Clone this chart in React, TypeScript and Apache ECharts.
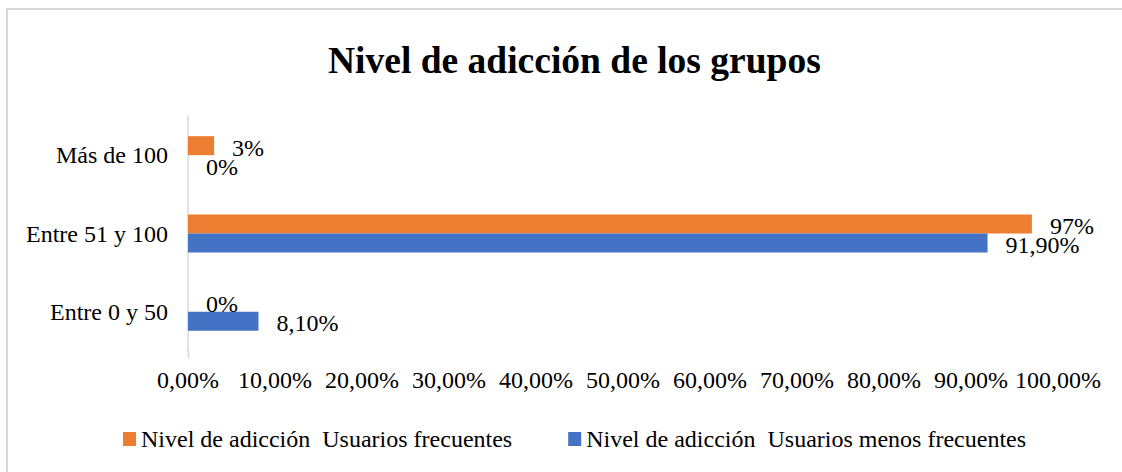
import React, { useEffect, useRef } from "react";
import * as echarts from "echarts";

const categories = ["Entre 0 y 50", "Entre 51 y 100", "Más de 100"];
const frecuentes = [0, 97, 3];
const menosFrecuentes = [8.1, 91.9, 0];
const seriesNames = [
  "Nivel de adicción  Usuarios frecuentes",
  "Nivel de adicción  Usuarios menos frecuentes",
];
const titleText = "Nivel de adicción de los grupos";

const FONT = "'Liberation Serif', 'Times New Roman', serif";

const fmtPct2 = (v: number) => v.toFixed(2).replace(".", ",") + "%";

export default function App() {
  const ref = useRef<HTMLDivElement>(null);
  useEffect(() => {
    if (!ref.current) return;
    const chart = echarts.init(ref.current, null, { renderer: "svg" });
    chart.setOption({
      animation: false,
      backgroundColor: "#ffffff",
      title: {
        text: titleText,
        left: 323,
        top: 36,
        textStyle: { fontFamily: FONT, fontSize: 37.5, fontWeight: "bold", color: "#000" },
      },
      graphic: [
        {
          type: "rect",
          shape: { x: 7, y: 9, width: 1130, height: 480 },
          style: { fill: "none", stroke: "#d9d9d9", lineWidth: 2 },
          silent: true,
        },
        {
          type: "line",
          shape: { x1: 188.5, y1: 350, x2: 188.5, y2: 358 },
          style: { stroke: "#d9d9d9", lineWidth: 1.5 },
          silent: true,
        },
      ],
      legend: {
        left: 118,
        top: 422,
        itemWidth: 13,
        itemHeight: 14,
        itemGap: 56,
        icon: "rect",
        textStyle: { fontFamily: FONT, fontSize: 24, color: "#000" },
        data: seriesNames,
      },
      grid: { left: 188, right: 64, top: 116, height: 235, containLabel: false },
      xAxis: {
        type: "value",
        min: 0,
        max: 100,
        interval: 10,
        axisLine: { show: false },
        axisTick: { show: false },
        splitLine: { show: false },
        axisLabel: {
          fontFamily: FONT,
          fontSize: 24,
          color: "#000",
          margin: 17,
          formatter: (v: number) => fmtPct2(v),
        },
      },
      yAxis: {
        type: "category",
        data: categories,
        axisLine: { show: true, lineStyle: { color: "#d9d9d9", width: 1.5 } },
        axisTick: { show: false },
        axisLabel: { fontFamily: FONT, fontSize: 24, color: "#000", margin: 20 },
      },
      series: [
        {
          name: seriesNames[0],
          type: "bar",
          data: frecuentes,
          barWidth: 19,
          barGap: "0%",
          itemStyle: { color: "#ED7D31" },
          label: {
            show: true,
            position: "right",
            distance: 18,
            offset: [0, 2],
            fontFamily: FONT,
            fontSize: 24,
            color: "#000",
            formatter: (p: any) => `${p.value}%`,
          },
        },
        {
          name: seriesNames[1],
          type: "bar",
          data: menosFrecuentes,
          barWidth: 19,
          barGap: "0%",
          itemStyle: { color: "#4472C4" },
          label: {
            show: true,
            position: "right",
            distance: 18,
            offset: [0, 2],
            fontFamily: FONT,
            fontSize: 24,
            color: "#000",
            formatter: (p: any) => (p.value === 0 ? "0%" : fmtPct2(p.value)),
          },
        },
      ],
    });
    return () => chart.dispose();
  }, []);
  return (
    <div
      ref={ref}
      style={{ position: "absolute", left: 0, top: 0, width: 1122, height: 472 }}
    />
  );
}
